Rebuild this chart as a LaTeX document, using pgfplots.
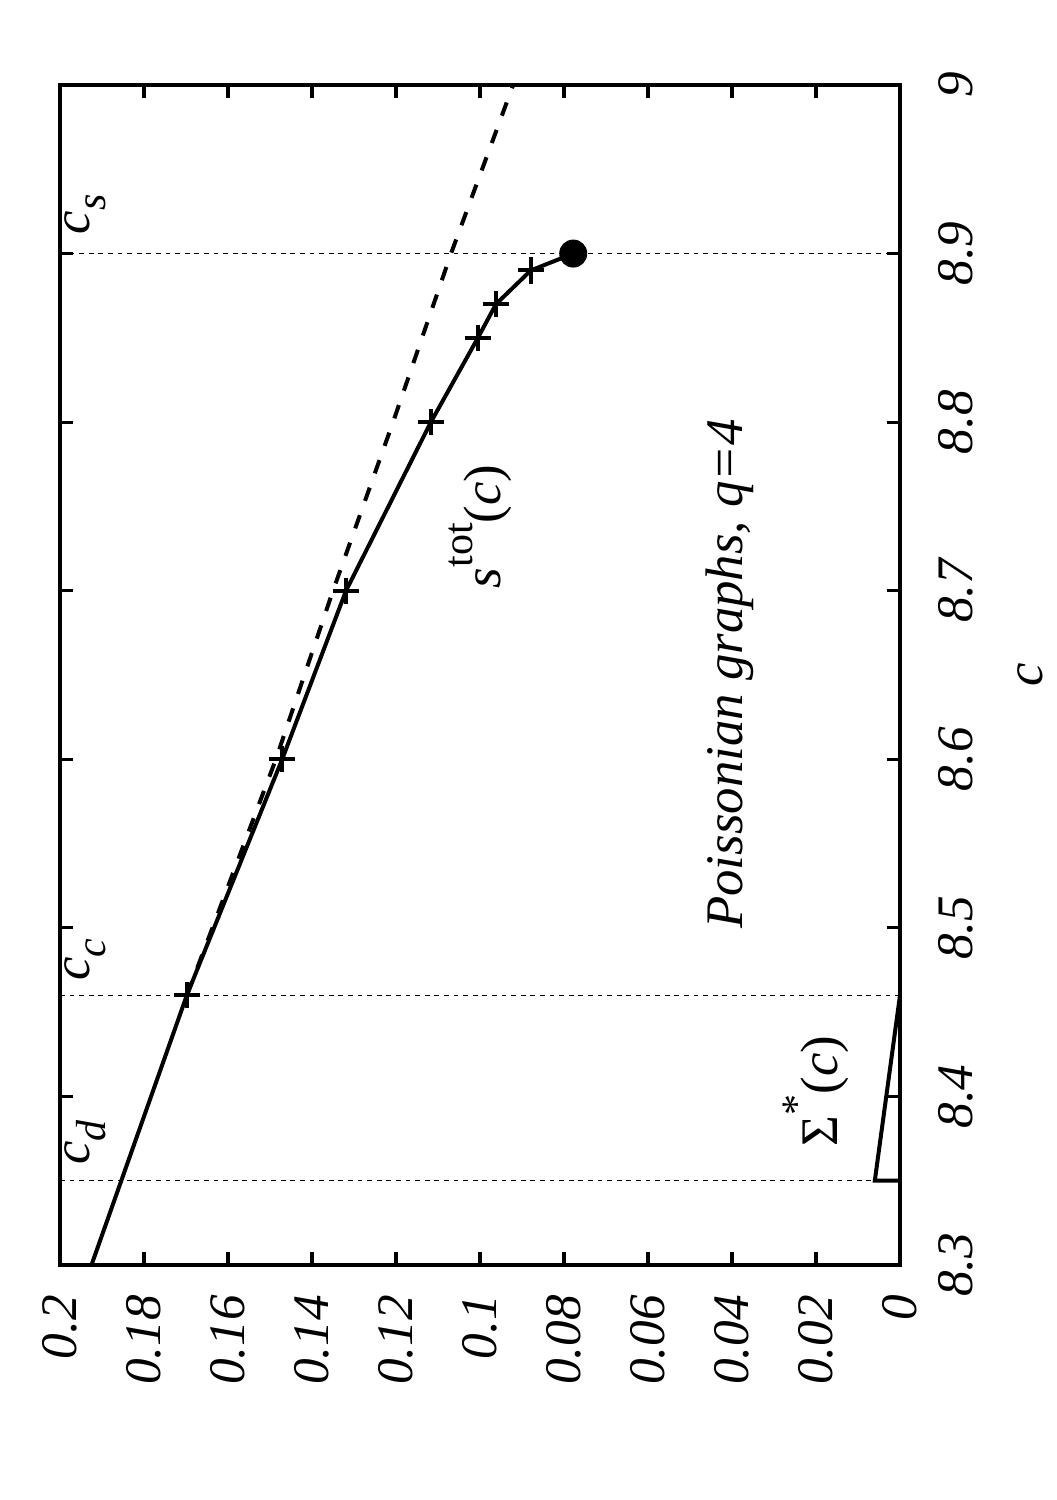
\documentclass[border=0pt]{standalone}
\usepackage{fontspec}
\setmainfont{Liberation Serif}
\usepackage{pgfplots}
\pgfplotsset{compat=1.18}
\newcommand{\lbl}{\fontsize{12.8}{15}\selectfont}
\newcommand{\txt}{\fontsize{13.2}{15}\selectfont}
\newcommand{\sub}[1]{\raisebox{-0.3em}{\fontsize{10.5}{12}\selectfont #1}}
\newcommand{\sups}[1]{\raisebox{0.52em}{\fontsize{10.5}{12}\selectfont #1}}

% gnuplot landscape figure turned on its side:
% horizontal axis = s (reversed), vertical axis = c
\begin{document}
\begin{tikzpicture}[lab/.style={rotate=90, anchor=base west, inner sep=0pt, font=\txt}]
\begin{axis}[
    scale only axis,
    width=210pt, height=295pt,
    xmin=0, xmax=0.2, ymin=8.3, ymax=9,
    x dir=reverse,
    xtick={0,0.02,0.04,0.06,0.08,0.1,0.12,0.14,0.16,0.18,0.2},
    ytick={8.3,8.4,8.5,8.6,8.7,8.8,8.9,9},
    scaled ticks=false,
    /pgf/number format/fixed,
    /pgf/number format/assume math mode=true,
    xtick pos=both, ytick pos=both,
    yticklabel pos=right,
    tick align=inside,
    major tick length=3.2pt,
    axis line style={line width=1pt},
    tick style={line width=0.8pt, black},
    ticklabel style={font=\lbl\itshape},
    xticklabel style={yshift=-4pt, rotate=90, anchor=east},
    yticklabel style={xshift=6pt, rotate=90, anchor=north},
    clip=false,
]
% vertical lines c_d, c_c, c_s
\addplot[line width=0.35pt, dash pattern=on 1.2pt off 1.2pt] coordinates {(0,8.35) (0.2,8.35)};
\addplot[line width=0.35pt, dash pattern=on 1.2pt off 1.2pt] coordinates {(0,8.46) (0.2,8.46)};
\addplot[line width=0.35pt, dash pattern=on 1.2pt off 1.2pt] coordinates {(0,8.9) (0.2,8.9)};

% Sigma*(c)
\addplot[line width=1pt] coordinates {(0,8.35) (0.006,8.35) (0,8.46)};

% dashed curve
\addplot[line width=1pt, dash pattern=on 3.5pt off 3.8pt] coordinates {
    (0.1698,8.46) (0.1637,8.5) (0.1486,8.6) (0.1350,8.7)
    (0.1207,8.8) (0.1069,8.9) (0.0921,9.0)};

% s^tot(c)
\addplot[line width=1pt] coordinates {(0.1925,8.3) (0.1698,8.46)};
\addplot[line width=1pt, mark=+, mark size=3.3pt, mark options={solid, line width=1pt}] coordinates {
    (0.1698,8.46) (0.1471,8.6) (0.1319,8.7) (0.1117,8.8)
    (0.1005,8.85) (0.0962,8.87) (0.0879,8.89)};
\addplot[line width=1pt] coordinates {(0.0879,8.89) (0.0778,8.9)};
\addplot[only marks, mark=*, mark size=3.3pt] coordinates {(0.0778,8.9)};

% labels
\node[lab] at (axis cs:0.1929,8.359) {\textit{c}\sub{\textit{d}}};
\node[lab] at (axis cs:0.1929,8.468) {\textit{c}\sub{\textit{c}}};
\node[lab] at (axis cs:0.1929,8.911) {\textit{c}\sub{\textit{s}}};
\node[lab] at (axis cs:0.0952,8.701) {\textit{s}\sups{tot}(\textit{c})};
\node[lab] at (axis cs:0.0148,8.370) {Σ\sups{*}(\textit{c})};
\node[lab, font=\txt\itshape] at (axis cs:0.0376,8.499) {Poissonian graphs, q=4};
\node[rotate=90, font=\txt\itshape] at ([xshift=32.5pt]rel axis cs:1,0.5) {c};
\end{axis}
\path ([shift={(-15pt,-58.75pt)}]current axis.south west) rectangle ([shift={(37.5pt,21.25pt)}]current axis.north east);
\end{tikzpicture}
\end{document}
